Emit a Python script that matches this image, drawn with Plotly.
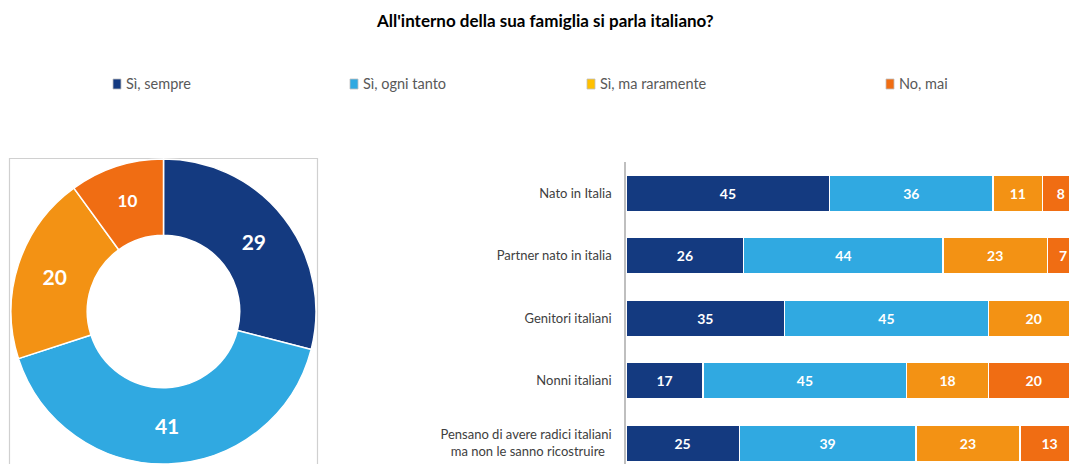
import plotly.graph_objects as go

# ---- data ----
title = "All'interno della sua famiglia si parla italiano?"
series = ["Sì, sempre", "Sì, ogni tanto", "Sì, ma raramente", "No, mai"]
bar_colors = ["#143A80", "#30A9E1", "#F39214", "#F06D13"]
legend_colors = ["#143A80", "#30A9E1", "#FFC000", "#F06D13"]

donut_values = [29, 41, 20, 10]

categories = [
    "Nato in Italia",
    "Partner nato in italia",
    "Genitori italiani",
    "Nonni italiani",
    "Pensano di avere radici italiani<br>ma non le sanno ricostruire\u00a0\u00a0",
]
sempre = [45, 26, 35, 17, 25]
ogni_tanto = [36, 44, 45, 45, 39]
raramente = [11, 23, 20, 18, 23]
mai = [8, 7, 0, 20, 13]
bar_values = [sempre, ogni_tanto, raramente, mai]

W, H = 1069, 464
FONT = "Lato"

fig = go.Figure()

# donut
fig.add_trace(go.Pie(
    values=donut_values,
    labels=series,
    hole=0.5,
    sort=False,
    direction="clockwise",
    rotation=0,
    marker=dict(colors=bar_colors, line=dict(color="white", width=1.5)),
    textinfo="value",
    textposition="inside",
    insidetextorientation="horizontal",
    textfont=dict(family=FONT, color="white", size=[21, 21, 21, 17], weight="bold"),
    domain=dict(x=[9 / W, 318 / W], y=[0, 1 - 159 / H]),
    showlegend=False,
))

# stacked bars
for name, vals, col in zip(series, bar_values, bar_colors):
    fig.add_trace(go.Bar(
        y=categories,
        x=vals,
        name=name,
        orientation="h",
        width=0.575,
        marker=dict(color=col, line=dict(color="white", width=1.2)),
        text=[str(v) if v else "" for v in vals],
        textposition="inside",
        insidetextanchor="middle",
        textangle=0,
        constraintext="none",
        textfont=dict(family=FONT, color="white", size=14, weight="bold"),
        showlegend=False,
        hoverinfo="x+y",
    ))

# legend (as annotations)
legend_x = [113, 350, 587, 886]
annotations = [
    dict(text="<b>" + title + "</b>", x=545 / W, y=1 - 20 / H, xref="paper", yref="paper",
         showarrow=False, font=dict(family=FONT, size=17, color="#000000"),
         xanchor="center", yanchor="middle"),
]
shapes = []
for lx, name, col in zip(legend_x, series, legend_colors):
    shapes.append(dict(type="rect", xref="paper", yref="paper",
                       x0=lx / W, x1=(lx + 8) / W, y0=1 - 89 / H, y1=1 - 79 / H,
                       fillcolor=col, line=dict(color="#BFBFBF", width=0.8)))
    annotations.append(dict(text=name, x=(lx + 11) / W, y=1 - 84 / H, xref="paper", yref="paper",
                            showarrow=False, font=dict(family=FONT, size=14.5, color="#595959"),
                            xanchor="left", yanchor="middle"))

# donut box
shapes.append(dict(type="rect", xref="paper", yref="paper",
                   x0=9.5 / W, x1=317.5 / W, y0=-0.05, y1=1 - 158.5 / H,
                   fillcolor="rgba(0,0,0,0)", line=dict(color="#D0D0D0", width=1.2), layer="below"))

fig.update_layout(
    width=W, height=H,
    margin=dict(l=0, r=0, t=0, b=0),
    paper_bgcolor="white", plot_bgcolor="white",
    barmode="stack",
    font=dict(family=FONT, size=13, color="#404040"),
    xaxis=dict(domain=[626 / W, 1], range=[0, 97.8], showgrid=False, zeroline=False,
               showticklabels=False, showline=False, fixedrange=True),
    yaxis=dict(domain=[0, 1 - 162 / H], range=[4.332, -0.5], showgrid=False, zeroline=False,
               showline=True, linecolor="#BFBFBF", linewidth=1.5, ticks="",
               ticklabelstandoff=10, tickfont=dict(family=FONT, size=13, color="#404040"),
               fixedrange=True),
    annotations=annotations,
    shapes=shapes,
    uniformtext=dict(mode=False),
)

fig.write_html("out.html", config={"displayModeBar": False},
               post_script="document.body.style.margin='0';document.body.style.overflow='hidden';")
